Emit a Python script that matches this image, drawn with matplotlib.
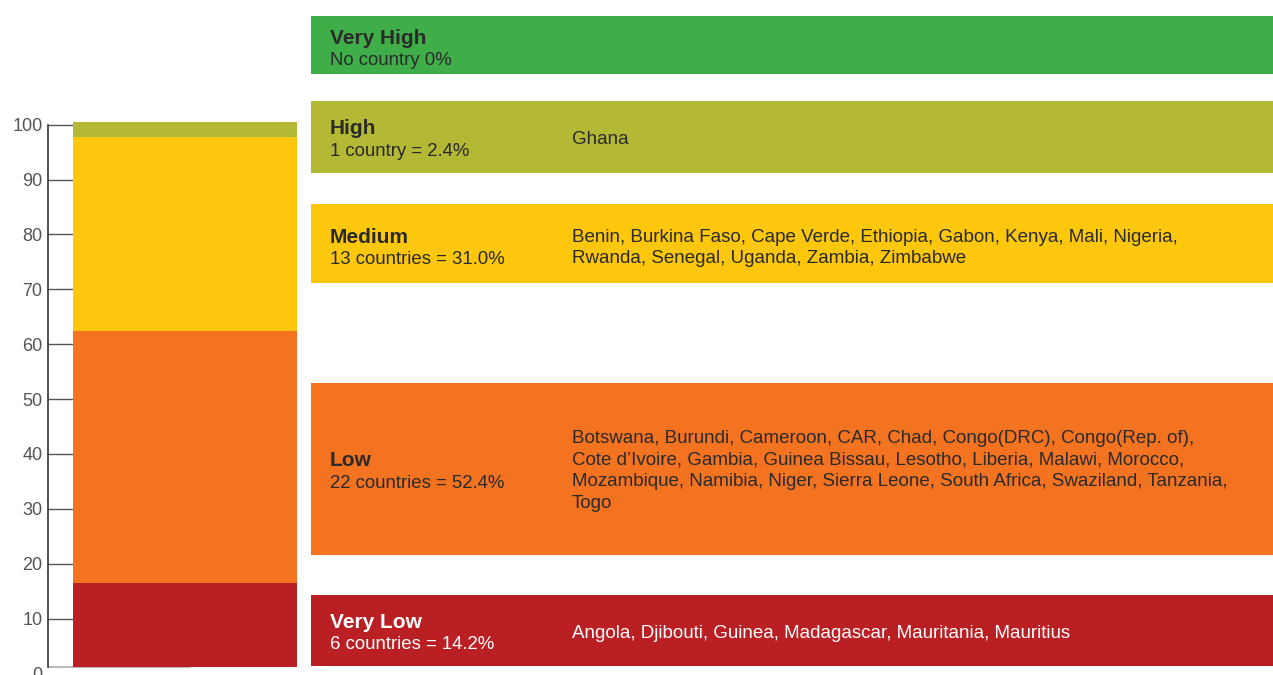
import matplotlib
matplotlib.use("Agg")
import matplotlib.pyplot as plt
from matplotlib.patches import Rectangle

plt.rcParams['font.family'] = ['Liberation Sans', 'DejaVu Sans']

# data
levels = ['Very Low', 'Low', 'Medium', 'High', 'Very High']
bar_base = 1.2
bar_tops = [16.55, 62.5, 97.85, 100.5, 100.5]   # cumulative tops as drawn
summaries = ['6 countries = 14.2%', '22 countries = 52.4%', '13 countries = 31.0%',
             '1 country = 2.4%', 'No country 0%']
countries = [
    ['Angola, Djibouti, Guinea, Madagascar, Mauritania, Mauritius'],
    ['Botswana, Burundi, Cameroon, CAR, Chad, Congo(DRC), Congo(Rep. of),',
     'Cote d\u2019Ivoire, Gambia, Guinea Bissau, Lesotho, Liberia, Malawi, Morocco,',
     'Mozambique, Namibia, Niger, Sierra Leone, South Africa, Swaziland, Tanzania,',
     'Togo'],
    ['Benin, Burkina Faso, Cape Verde, Ethiopia, Gabon, Kenya, Mali, Nigeria,',
     'Rwanda, Senegal, Uganda, Zambia, Zimbabwe'],
    ['Ghana'],
    [],
]
colors = ['#BA1F24', '#F47321', '#FCC70D', '#B3B835', '#3FAE49']
text_colors = ['white', '#2a2a2a', '#2a2a2a', '#2a2a2a', '#2a2a2a']
yticks = [0, 10, 20, 30, 40, 50, 60, 70, 80, 90, 100]

W, H = 1273, 675
fig = plt.figure(figsize=(W / 100, H / 100), dpi=100)

# stacked bar on the left
ax = fig.add_axes([48 / W, 1.5 / H, 249 / W, 551.5 / H])
bottom = bar_base
for top, c in zip(bar_tops, colors):
    if top > bottom:
        ax.bar(0.1, top - bottom, width=0.9, bottom=bottom, color=c,
               align='edge', zorder=2)
    bottom = top
ax.set_xlim(0, 1)
ax.set_ylim(0, 100.5)
ax.set_yticks(yticks)
ax.set_xticks([])
for s in ['top', 'right', 'bottom']:
    ax.spines[s].set_visible(False)
ax.spines['left'].set_color('#333333')
ax.spines['left'].set_linewidth(1.2)
ax.spines['left'].set_bounds(bar_base, 100)
ax.tick_params(axis='y', direction='in', length=18, width=1, color='#555555',
               labelsize=13, labelcolor='#555555', pad=4)
ax.yaxis.get_major_ticks()[0].tick1line.set_visible(False)
ax.axhline(bar_base, xmin=0, xmax=0.57, color='#bbbbbb', lw=1.5, zorder=1)

# boxes on the right (pixel layout)
ov = fig.add_axes([0, 0, 1, 1])
ov.set_xlim(0, W)
ov.set_ylim(H, 0)
ov.axis('off')
box_y = [(595, 666), (383, 555), (204, 283), (101, 173), (16, 74)]
sub_base = [649.3, 487.7, 264.3, 156, 65]
list_base = [638.5, 443.3, 241.7, 144, 0]
line_gap = 21.4
for i in range(len(levels)):
    y0, y1 = box_y[i]
    ov.add_patch(Rectangle((311, y0), W - 311, y1 - y0, color=colors[i], lw=0))
    ov.text(330, sub_base[i] - 21.5, levels[i], fontsize=15, fontweight='bold',
            color=text_colors[i], va='baseline', ha='left')
    ov.text(330, sub_base[i], summaries[i], fontsize=13.4,
            color=text_colors[i], va='baseline', ha='left')
    for k, line in enumerate(countries[i]):
        ov.text(572, list_base[i] + k * line_gap, line, fontsize=13.5,
                color=text_colors[i], va='baseline', ha='left')

fig.savefig('out.png', dpi=100)
